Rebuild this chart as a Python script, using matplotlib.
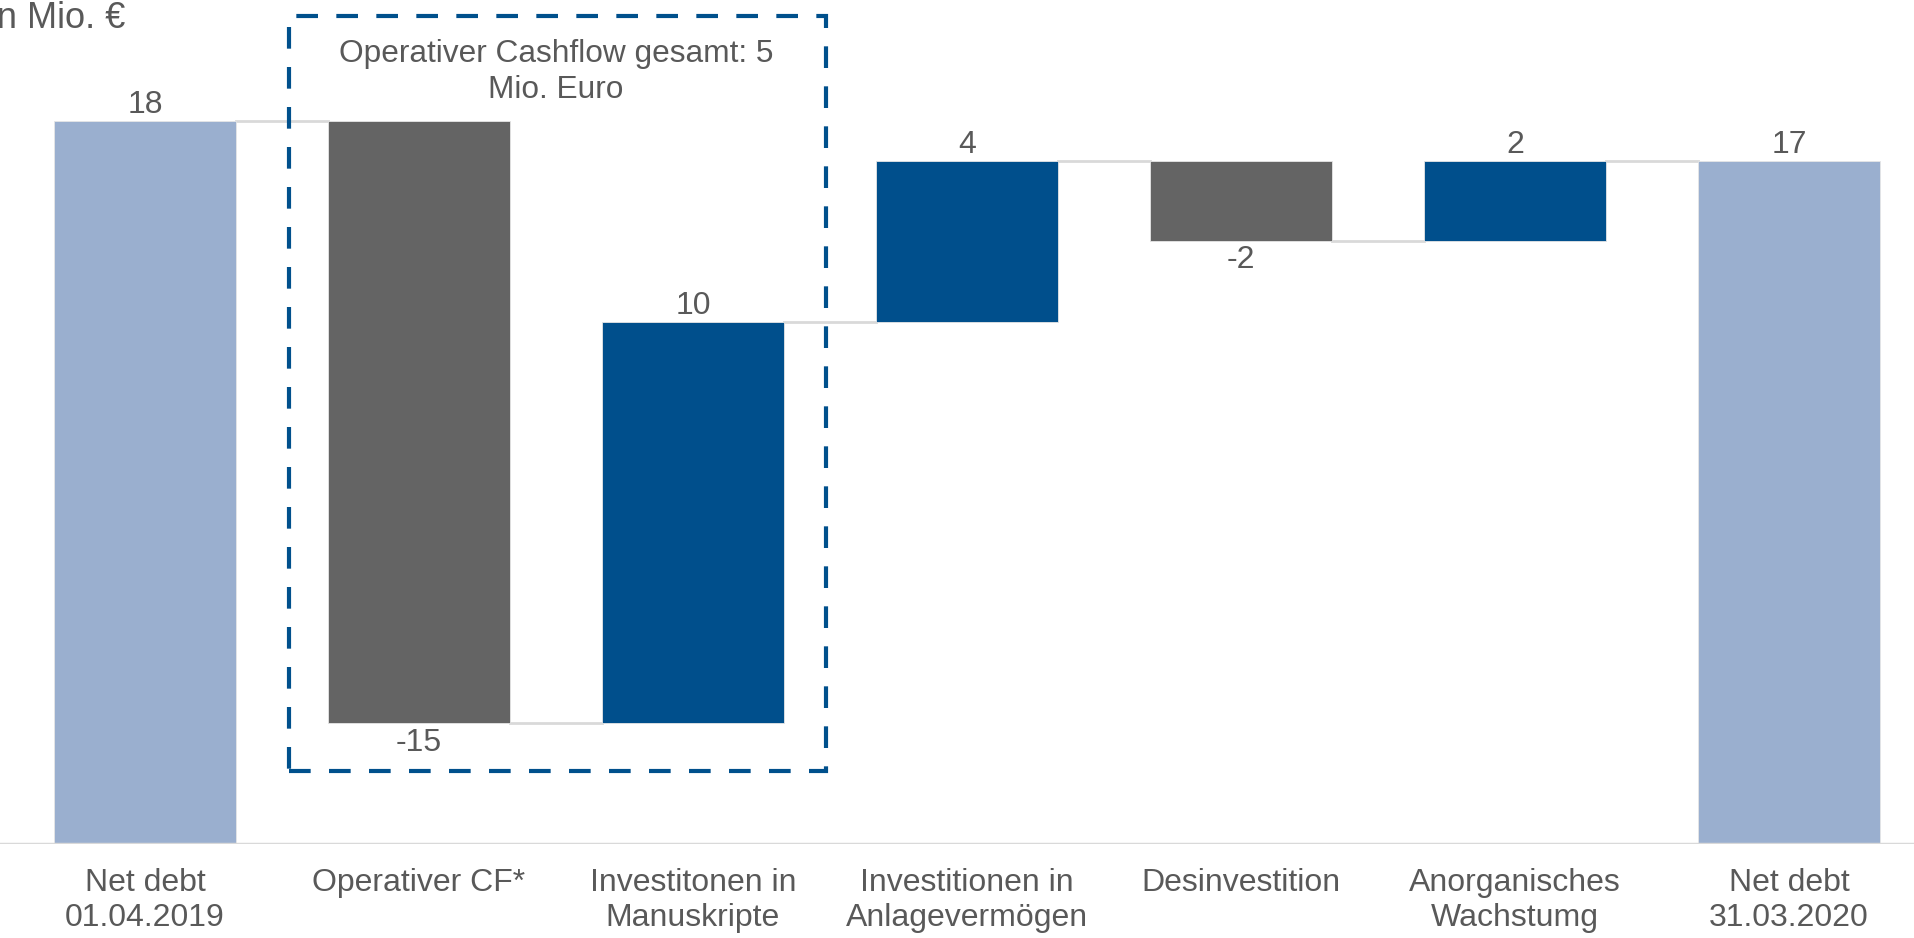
import numpy as np
import matplotlib
matplotlib.use("Agg")
import matplotlib.pyplot as plt
from matplotlib.patches import Rectangle

plt.rcParams['font.family'] = ['Liberation Sans', 'DejaVu Sans']

# Daten (in Mio. €)
categories = ["Net debt\n01.04.2019", "Operativer CF*", "Investitonen in\nManuskripte",
              "Investitionen in\nAnlagevermögen", "Desinvestition", "Anorganisches\nWachstumg",
              "Net debt\n31.03.2020"]
values = [18, -15, 10, 4, -2, 2, 17]
is_total = [True, False, False, False, False, False, True]

col_total = "#9AAFCF"
col_neg = "#646464"
col_pos = "#004F8C"
col_text = "#595959"
col_line = "#D9D9D9"

# Wasserfall: Start/Ende jedes Balkens berechnen
bottoms, heights, colors = [], [], []
level = 0
for v, tot in zip(values, is_total):
    if tot:
        bottoms.append(0)
        heights.append(v)
        colors.append(col_total)
        level = v
    else:
        if v >= 0:
            bottoms.append(level)
        else:
            bottoms.append(level + v)
        heights.append(abs(v))
        colors.append(col_pos if v >= 0 else col_neg)
        level = level + v

fig = plt.figure(figsize=(19.15, 9.38), dpi=100)
ax = fig.add_axes([0, 94 / 938, 1, 844 / 938])

x = np.arange(len(categories))
w = 0.665
ax.bar(x, heights, bottom=bottoms, width=w, color=colors, zorder=3,
       edgecolor="#E6E6E6", linewidth=0.6)

# Verbindungslinien
for i in range(len(x) - 1):
    lvl = bottoms[i] + heights[i] if (is_total[i] or values[i] >= 0) else bottoms[i]
    ax.plot([x[i] + w / 2, x[i + 1] - w / 2], [lvl, lvl], color=col_line, lw=2, zorder=2)

# Wertbeschriftungen
fs = 23
for i, v in enumerate(values):
    if v >= 0:
        ax.annotate(str(v), (x[i], bottoms[i] + heights[i]), xytext=(0, 5.5),
                    textcoords="offset points", ha="center", va="baseline",
                    fontsize=fs, color=col_text)
    else:
        ax.annotate(str(v), (x[i], bottoms[i]), xytext=(0, -3),
                    textcoords="offset points", ha="center", va="top",
                    fontsize=fs, color=col_text)

ax.axhline(0, color=col_line, lw=2.5, zorder=4)

# gestrichelter Rahmen um operativen Cashflow
box = Rectangle((0.527, 1.82), 1.96, 18.77, fill=False, edgecolor="#00508C",
                lw=3, linestyle=(0, (5.2, 4.4)), zorder=5, clip_on=False)
ax.add_patch(box)
ax.text(1.5, 19.2, "Operativer Cashflow gesamt: 5\nMio. Euro", ha="center", va="center",
        fontsize=22.8, color=col_text, linespacing=1.27, zorder=6)

ax.set_xlim(-145 / 274, (1915 - 145) / 274)
ax.set_ylim(0, 21.0)
ax.set_xticks(x)
ax.set_xticklabels(categories, fontsize=fs, color=col_text, linespacing=1.24)
ax.tick_params(axis="x", length=0, pad=17)
ax.set_yticks([])
for s in ax.spines.values():
    s.set_visible(False)

fig.text(125 / 1915, 1 - 28 / 938, "in Mio. €", ha="right", va="baseline",
         fontsize=26, color=col_text)

fig.savefig("out.png", dpi=100)
